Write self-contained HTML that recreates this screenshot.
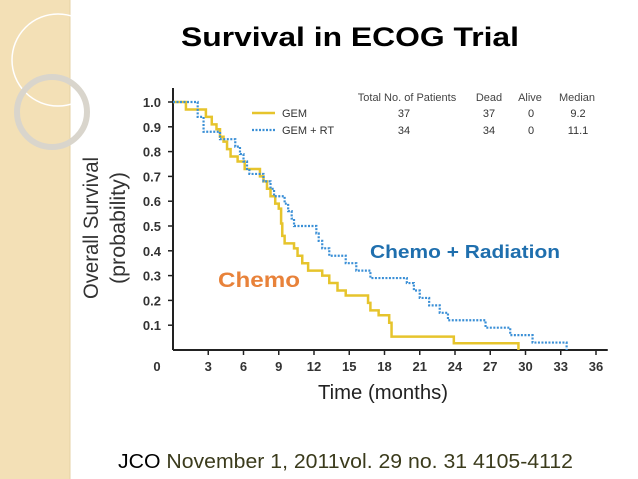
<!DOCTYPE html>
<html><head><meta charset="utf-8"><style>
html,body{margin:0;padding:0}
body{width:638px;height:479px;overflow:hidden;background:#fff;position:relative;font-family:"Liberation Sans",sans-serif}
svg{position:absolute;left:0;top:0}
</style></head><body>
<svg id="s" width="638" height="479" viewBox="0 0 638 479">
  <rect x="0" y="0" width="70" height="479" fill="#f3e0b6"/>
  <line x1="70" y1="0" x2="70" y2="479" stroke="#e6d2a4" stroke-width="1"/>
  <circle cx="58" cy="60" r="46" fill="none" stroke="#ffffff" stroke-width="1.5"/>
  <circle cx="52" cy="112" r="35" fill="none" stroke="#d9d5cc" stroke-width="6"/>
  <text x="350" y="46" text-anchor="middle" font-size="27" font-weight="bold" fill="#000" textLength="338" lengthAdjust="spacingAndGlyphs">Survival in ECOG Trial</text>
  <text x="118" y="468" font-size="20" textLength="455" lengthAdjust="spacingAndGlyphs"><tspan fill="#000">JCO</tspan><tspan fill="#3b3b1c"> November 1, 2011vol. 29 no. 31 4105-4112</tspan></text>
  <g id="chart"></g>
</svg>
<script>
const xTicks=[3,6,9,12,15,18,21,24,27,30,33,36];
const yTicks=[0.1,0.2,0.3,0.4,0.5,0.6,0.7,0.8,0.9,1.0];
const gemTimes=[0,1.1,2.8,3.3,3.7,4.0,4.3,4.6,4.9,5.5,6.1,7.4,7.7,8.0,8.3,8.7,9.0,9.2,9.3,9.5,10.3,10.6,11.0,11.5,12.7,13.3,14.0,14.7,16.6,16.8,17.5,18.4,18.6,23.9,29.4];
const gemSurv=[1.0,0.97,0.94,0.91,0.89,0.86,0.84,0.81,0.78,0.76,0.73,0.70,0.68,0.65,0.62,0.59,0.57,0.51,0.46,0.43,0.41,0.38,0.35,0.32,0.30,0.27,0.24,0.22,0.19,0.16,0.14,0.11,0.054,0.027,0];
const rtTimes=[0,2.1,2.6,4.0,5.3,5.7,6.0,6.3,6.5,7.7,8.3,8.6,9.5,9.8,10.1,10.3,12.2,12.4,12.7,13.3,14.7,15.6,16.8,19.9,20.5,21.0,21.8,22.7,23.4,26.6,28.7,30.6,33.5];
const rtSurv=[1.0,0.94,0.88,0.85,0.82,0.79,0.76,0.73,0.71,0.68,0.65,0.62,0.59,0.56,0.53,0.50,0.47,0.44,0.41,0.38,0.35,0.32,0.29,0.27,0.24,0.21,0.18,0.15,0.12,0.09,0.06,0.03,0];
const NS='http://www.w3.org/2000/svg';
const X=t=>173+t*11.75;
const Y=v=>350-v*248;
const g=document.getElementById('chart');
function mk(tag,attrs){const e=document.createElementNS(NS,tag);for(const k in attrs)e.setAttribute(k,attrs[k]);g.appendChild(e);return e;}
let e;
e=mk('line',{x1:X(0),y1:88,x2:X(0),y2:Y(0),stroke:'#222','stroke-width':2});


e=mk('line',{x1:X(0),y1:Y(0),x2:X(37),y2:Y(0),stroke:'#222','stroke-width':2});


yTicks.forEach(v=>{
 e=mk('line',{x1:X(0)-5,y1:Y(v),x2:X(0),y2:Y(v),stroke:'#222','stroke-width':1.5});
 
 
 e=mk('text',{x:X(0)-12,y:Y(v)+5,'text-anchor':'end','font-size':13,'font-weight':'bold',fill:'#333'});
 e.textContent=v.toFixed(1);
 
 
});
xTicks.forEach(t=>{
 e=mk('line',{x1:X(t),y1:Y(0),x2:X(t),y2:Y(0)+5,stroke:'#222','stroke-width':1.5});
 
 
 e=mk('text',{x:X(t),y:371,'text-anchor':'middle','font-size':13,'font-weight':'bold',fill:'#333'});
 e.textContent=t;
 
 
});
e=mk('text',{x:157,y:371,'text-anchor':'middle','font-size':13,'font-weight':'bold',fill:'#333'});
e.textContent='0';


e=mk('text',{x:383,y:399,'text-anchor':'middle','font-size':20,fill:'#222',textLength:130,lengthAdjust:'spacingAndGlyphs'});
e.textContent='Time (months)';


e=mk('text',{x:0,y:0,'text-anchor':'middle','font-size':21,fill:'#333',transform:'translate(98,228) rotate(-90)',textLength:142,lengthAdjust:'spacingAndGlyphs'});
e.textContent='Overall Survival';


e=mk('text',{x:0,y:0,'text-anchor':'middle','font-size':21,fill:'#333',transform:'translate(125,228) rotate(-90)',textLength:112,lengthAdjust:'spacingAndGlyphs'});
e.textContent='(probability)';


function step(ts,vs){let d='M'+X(ts[0])+' '+Y(vs[0]);for(let i=1;i<ts.length;i++){d+=' H'+X(ts[i])+' V'+Y(vs[i]);}return d;}
e=mk('path',{d:step(gemTimes,gemSurv),fill:'none',stroke:'#e6c42c','stroke-width':2.5});


e=mk('path',{d:step(rtTimes,rtSurv),fill:'none',stroke:'#3a8fd6','stroke-width':2.2,'stroke-dasharray':'2,1.5'});


e=mk('line',{x1:252,y1:113,x2:275,y2:113,stroke:'#e6c42c','stroke-width':2.5});


e=mk('line',{x1:252,y1:130,x2:275,y2:130,stroke:'#3a8fd6','stroke-width':2.2,'stroke-dasharray':'2,1.5'});


const tbl=[['Total No. of Patients',407,'middle',97,'#444'],['Dead',489,'middle',97,'#444'],['Alive',530,'middle',97,'#444'],['Median',577,'middle',97,'#444'],
['GEM',282,'start',113,'#333'],['37',404,'middle',113,'#333'],['37',489,'middle',113,'#333'],['0',531,'middle',113,'#333'],['9.2',578,'middle',113,'#333'],
['GEM + RT',282,'start',130,'#333'],['34',404,'middle',130,'#333'],['34',489,'middle',130,'#333'],['0',531,'middle',130,'#333'],['11.1',578,'middle',130,'#333']];
tbl.forEach(r=>{
 e=mk('text',{x:r[1],y:r[3]+4,'text-anchor':r[2],'font-size':11,fill:r[4]});
 e.textContent=r[0];
 
 
});
e=mk('text',{x:218,y:287,'font-size':21,'font-weight':'bold',fill:'#e8823a',textLength:82,lengthAdjust:'spacingAndGlyphs'});
e.textContent='Chemo';


e=mk('text',{x:370,y:258,'font-size':18,'font-weight':'bold',fill:'#1f6fae',textLength:190,lengthAdjust:'spacingAndGlyphs'});
e.textContent='Chemo + Radiation';


</script>
</body></html>
